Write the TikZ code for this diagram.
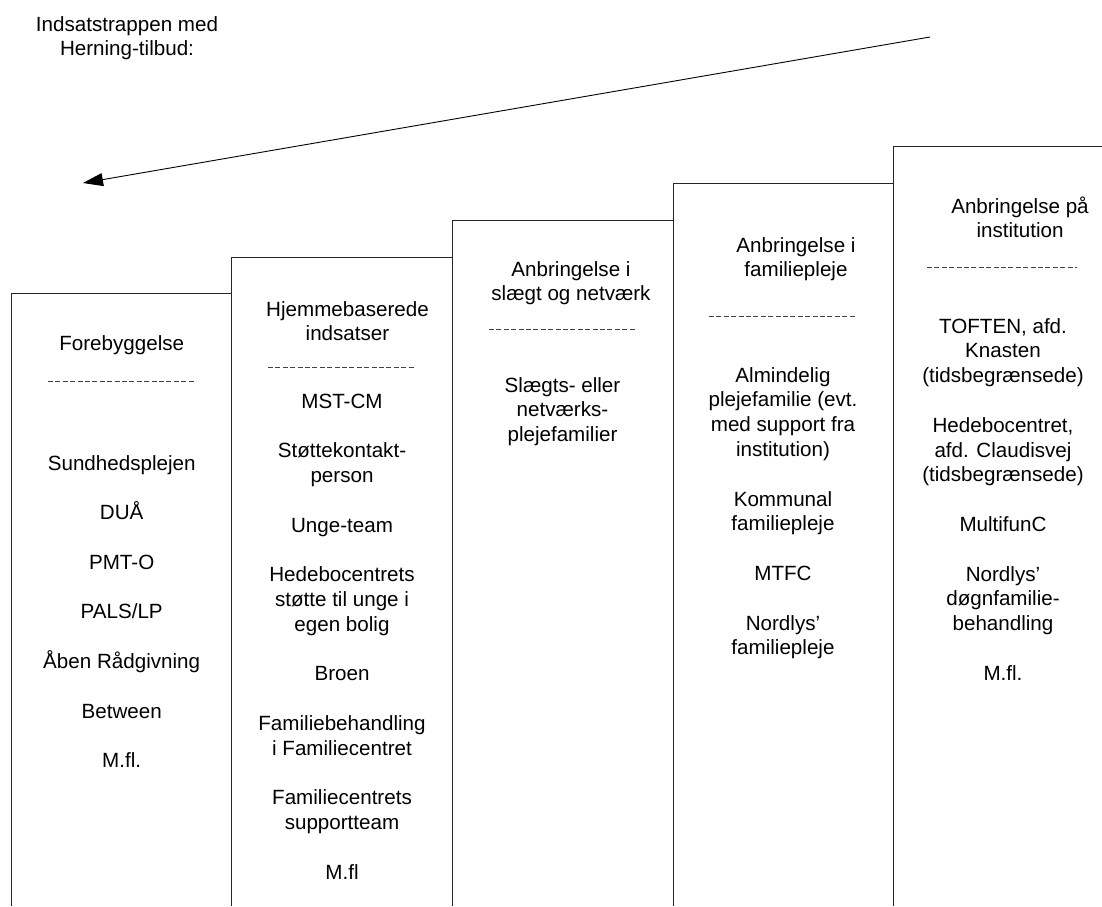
\documentclass[tikz,border=0pt]{standalone}
\usepackage{fontspec}
\setmainfont{Liberation Sans}
\usetikzlibrary{arrows.meta}
\begin{document}
\begin{tikzpicture}[x=1pt,y=-1pt,
  txt/.style={font=\fontsize{20.6}{24.8}\selectfont, align=center, anchor=base, inner sep=0pt},
  edge/.style={draw=black!85, line width=0.9pt},
  sepline/.style={draw=black!75, line width=0.8pt, dash pattern=on 5pt off 2.4pt},
  arrowline/.style={draw=black, line width=0.9pt, -{Triangle[length=20pt,width=13pt]}},
]
\useasboundingbox (0,0) rectangle (1102,906);

% steps of the staircase
\draw[edge] (11,906) -- (11,293) -- (231,293);
\draw[edge] (231,906) -- (231,257) -- (452,257);
\draw[edge] (452,906) -- (452,220.5) -- (673,220.5);
\draw[edge] (673,906) -- (673,183) -- (893,183);
\draw[edge] (893,906) -- (893,146.5) -- (1102,146.5);

% dashed separators
\draw[sepline] (48,381) -- (196,381);
\draw[sepline] (268,367) -- (415,367);
\draw[sepline] (489,329) -- (636,329);
\draw[sepline] (709,316) -- (856,316);
\draw[sepline] (927,267) -- (1077,267);

% title and arrow (anchor=base is the baseline of the last line)
\node[txt] (title) at (127,55.8) {Indsatstrappen med\\Herning-tilbud:};
\coordinate (arrowstart) at (930,37);
\coordinate (arrowend) at (83,183);
\draw[arrowline] (arrowstart) -- (arrowend);

% headers
\node[txt] (h1) at (121.7,350) {Forebyggelse};
\node[txt] (h2) at (347.5,340.8) {Hjemmebaserede\\indsatser};
\node[txt] (h3) at (571,300.8) {Anbringelse i\\slægt og netværk};
\node[txt] (h4) at (796,276.8) {Anbringelse i\\familiepleje};
\node[txt] (h5) at (1020,237.8) {Anbringelse på\\institution};

% bodies
\node[txt] (b1) at (121.7,767.6) {Sundhedsplejen\\[24.8pt]DUÅ\\[24.8pt]PMT-O\\[24.8pt]PALS/LP\\[24.8pt]Åben Rådgivning\\[24.8pt]Between\\[24.8pt]M.fl.};
\node[txt] (b2) at (342,879.2) {MST-CM\\[24.8pt]Støttekontakt-\\person\\[24.8pt]Unge-team\\[24.8pt]Hedebocentrets\\støtte til unge i\\egen bolig\\[24.8pt]Broen\\[24.8pt]Familiebehandling\\i Familiecentret\\[24.8pt]Familiecentrets\\supportteam\\[24.8pt]M.fl};
\node[txt] (b3) at (562.5,441.6) {Slægts- eller\\netværks-\\plejefamilier};
\node[txt] (b4) at (783,654.8) {Almindelig\\plejefamilie (evt.\\med support fra\\institution)\\[24.8pt]Kommunal\\familiepleje\\[24.8pt]MTFC\\[24.8pt]Nordlys’\\familiepleje};
\node[txt] (b5) at (1003,680.2) {TOFTEN, afd.\\Knasten\\(tidsbegrænsede)\\[24.8pt]Hedebocentret,\\afd. Claudisvej\\(tidsbegrænsede)\\[24.8pt]MultifunC\\[24.8pt]Nordlys’\\døgnfamilie-\\behandling\\[24.8pt]M.fl.};
\end{tikzpicture}
\end{document}
